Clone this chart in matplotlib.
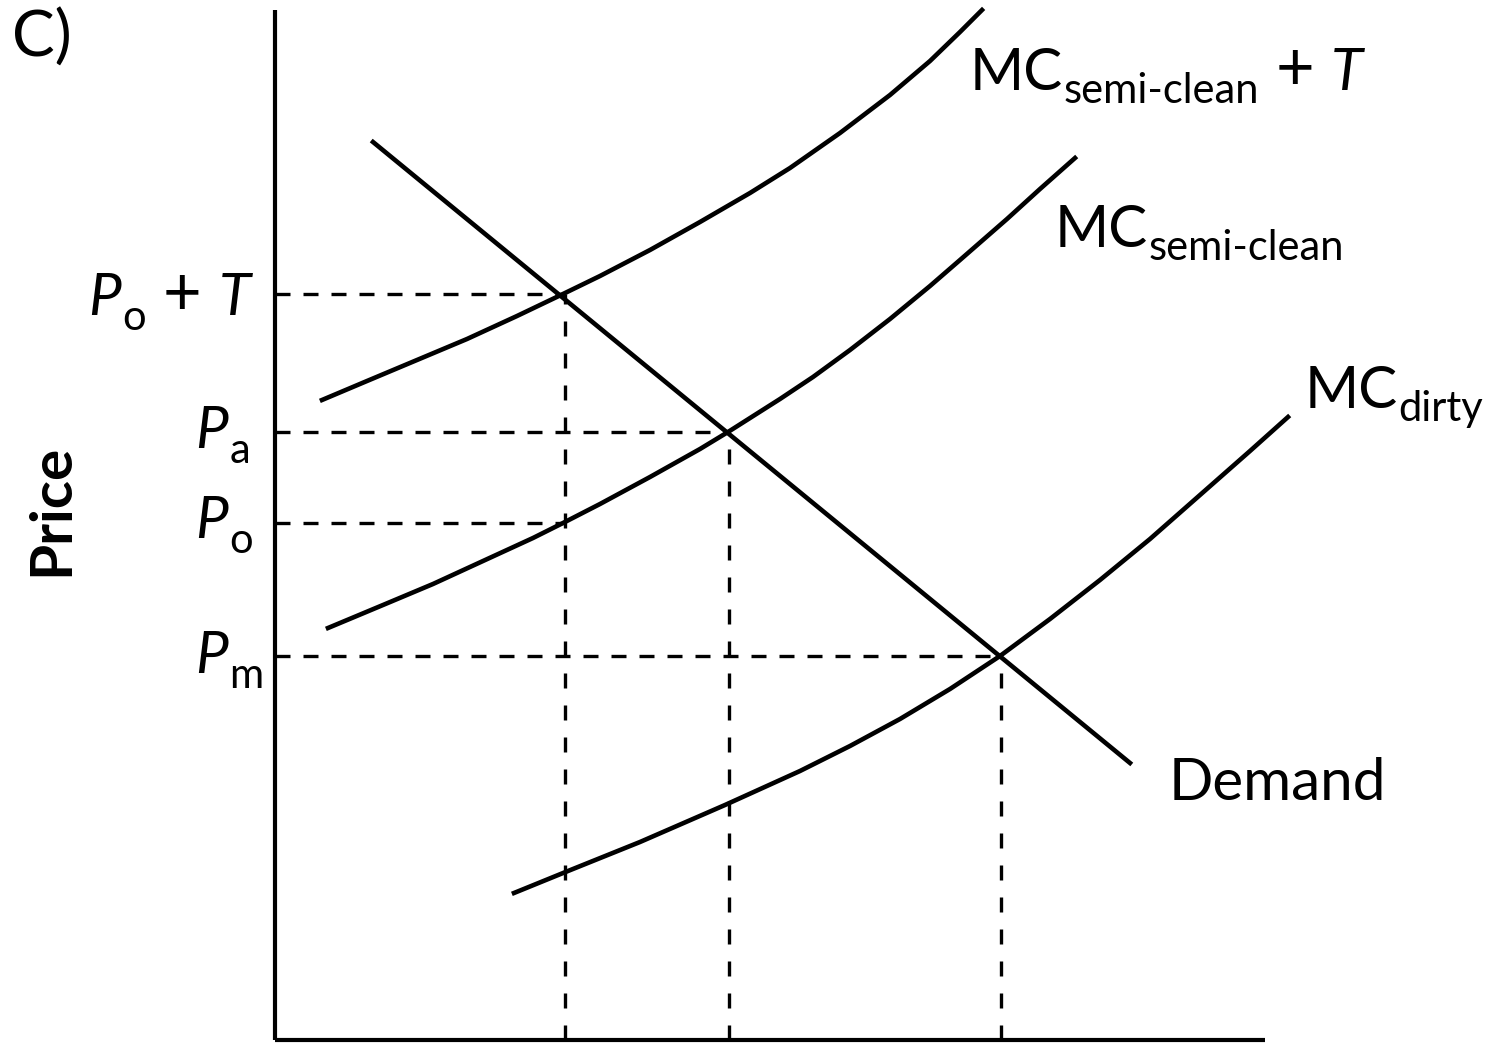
import numpy as np
import matplotlib
matplotlib.use("Agg")
import matplotlib.pyplot as plt

plt.rcParams['font.family'] = ['Lato', 'DejaVu Sans']

# curves (quantity, price)
mc_tax_q = [0.47, 0.92, 1.42, 1.92, 2.42, 2.88, 3.25, 3.75, 4.25, 4.75,
            5.15, 5.65, 6.15, 6.55, 6.85, 7.07]
mc_tax_p = [6.40, 6.59, 6.80, 7.01, 7.24, 7.46, 7.64, 7.90, 8.18, 8.47,
            8.72, 9.07, 9.45, 9.79, 10.08, 10.30]

mc_semi_q = [0.53, 1.08, 1.58, 2.08, 2.58, 2.88, 3.25, 3.75, 4.25, 4.53,
             5.05, 5.38, 5.75, 6.15, 6.55, 6.85, 7.32, 7.65, 8.00]
mc_semi_p = [4.12, 4.35, 4.56, 4.79, 5.02, 5.17, 5.36, 5.63, 5.91, 6.08,
             6.41, 6.63, 6.90, 7.21, 7.54, 7.80, 8.21, 8.51, 8.82]

mc_dirty_q = [2.39, 2.93, 3.65, 4.50, 5.25, 5.75, 6.25, 6.75, 7.25, 7.75,
              8.25, 8.75, 9.25, 9.75, 10.13]
mc_dirty_p = [1.47, 1.69, 1.98, 2.35, 2.69, 2.94, 3.21, 3.51, 3.84, 4.21,
              4.60, 5.01, 5.45, 5.89, 6.23]

demand_q = [0.98, 8.55]
demand_p = [8.98, 2.77]

# equilibrium levels
price_levels = [7.46, 6.08, 5.17, 3.84]     # Po+T, Pa, Po, Pm
price_ends = [2.90, 4.54, 2.90, 7.26]
quantities = [2.90, 4.54, 7.26]
quantity_tops = [7.46, 6.08, 3.84]

axis_top = 10.30
axis_right = 9.90

fig = plt.figure(figsize=(14.91, 10.43), dpi=100)
ax = fig.add_axes([0, 0, 1, 1])
ax.set_xlim(-2.75, 12.16)
ax.set_ylim(-0.03, 10.40)
ax.axis('off')

lw = 3.3
dlw = 2.4

# axes
ax.plot([0, 0], [0, axis_top], color='k', lw=3.0, solid_capstyle='butt')
ax.plot([0, axis_right], [0, 0], color='k', lw=3.0, solid_capstyle='butt')

# dashed guides
for p, q in zip(price_levels, price_ends):
    ax.plot([0, q], [p, p], color='k', lw=dlw, ls=(0, (4.5, 3.9)), zorder=1)
for q, p in zip(quantities, quantity_tops):
    ax.plot([q, q], [0, p], color='k', lw=dlw, ls=(0, (4.5, 5.1)), zorder=1)

# curves
ax.plot(mc_tax_q, mc_tax_p, color='k', lw=lw, zorder=3)
ax.plot(mc_semi_q, mc_semi_p, color='k', lw=lw, zorder=3)
ax.plot(mc_dirty_q, mc_dirty_p, color='k', lw=lw, zorder=3)
ax.plot(demand_q, demand_p, color='k', lw=lw, zorder=3)

fs = 42
sfs = 30


def sub_label(x, y, base, sub, tail=None, italic=False, dy=-9.5, dx=0):
    t = ax.text(x, y, base, fontsize=fs, ha='left', va='baseline',
                style='italic' if italic else 'normal')
    s = ax.annotate(sub, xy=(1, y), xycoords=(t, 'data'),
                    xytext=(dx, dy), textcoords='offset points',
                    fontsize=sfs, ha='left', va='baseline')
    if tail is not None:
        pl = ax.annotate('+', xy=(1, y), xycoords=(s, 'data'),
                         xytext=(tail[0], 0), textcoords='offset points',
                         fontsize=fs + 6, ha='left', va='baseline')
        ax.annotate('T', xy=(1, y), xycoords=(pl, 'data'),
                    xytext=(tail[1], 0), textcoords='offset points',
                    fontsize=fs, ha='left', va='baseline', style='italic')


# price labels
sub_label(-1.87, 7.25, 'P', 'o', tail=(12, 13), italic=True, dy=-10.5, dx=1)
sub_label(-0.80, 5.92, 'P', 'a', italic=True, dy=-10.5, dx=1)
sub_label(-0.80, 5.02, 'P', 'o', italic=True, dy=-10.5, dx=1)
sub_label(-0.80, 3.67, 'P', 'm', italic=True, dy=-10.5, dx=1)

# curve labels
sub_label(6.95, 9.50, 'MC', 'semi-clean', tail=(12, 12))
sub_label(7.80, 7.93, 'MC', 'semi-clean')
sub_label(10.30, 6.32, 'MC', 'dirty')
ax.text(8.94, 2.40, 'Demand', fontsize=fs, ha='left', va='baseline')

ax.text(-2.63, 9.83, 'C)', fontsize=fs + 4, ha='left', va='baseline')
ax.text(-2.23, 5.30, 'Price', fontsize=fs, fontweight='bold', rotation=90,
        ha='center', va='center')

fig.savefig('out.png', dpi=100)
